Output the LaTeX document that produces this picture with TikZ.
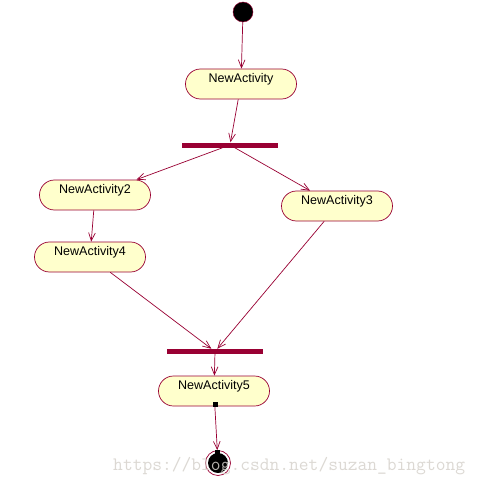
\documentclass[tikz,border=0pt]{standalone}
\usepackage{fontspec}
\setmainfont{Liberation Sans}
\usetikzlibrary{shapes.misc,arrows.meta}
\definecolor{ADRed}{HTML}{990033}
\definecolor{ADFill}{HTML}{FFFFCC}
\definecolor{ADMark}{HTML}{D6D2CC}
\begin{document}
\begin{tikzpicture}[x=0.03cm,y=-0.03cm,
  activity/.style={rounded rectangle,draw=ADRed,fill=ADFill,line width=.6pt,
    minimum width=3.33cm,minimum height=0.9cm,inner sep=0pt,
    text height=0.3cm,text depth=0.39cm,font=\fontsize{10.7}{12}\selectfont},
  forkbar/.style={rectangle,fill=ADRed,minimum width=2.88cm,minimum height=0.15cm,inner sep=0pt},
  flow/.style={draw=ADRed,line width=.6pt,-{Straight Barb[length=0.24cm,width=0.2cm]}},
  handle/.style={rectangle,fill=black,minimum size=0.15cm,inner sep=0pt}]
\path[use as bounding box] (0,0) rectangle (484,482);
\fill[white] (0,0) rectangle (484,482);
% states
\node[circle,draw=ADRed,fill=black,minimum size=0.6cm,inner sep=0pt] (start) at (243,12) {};
\node[activity] (act1) at (241,84) {NewActivity};
\node[forkbar] (fork1) at (230,145) {};
\node[activity] (act2) at (95,195) {NewActivity2};
\node[activity] (act3) at (337,206) {NewActivity3};
\node[activity] (act4) at (90,257) {NewActivity4};
\node[forkbar] (fork2) at (215,351.5) {};
\node[activity] (act5) at (214,391) {NewActivity5};
\node[circle,draw=ADRed,fill=white,line width=.6pt,minimum size=0.75cm,inner sep=0pt] (end) at (218,463) {};
\node[circle,fill=black,minimum size=0.6cm,inner sep=0pt] (endin) at (end) {};
% transitions
\draw[flow] (start) -- (act1);
\draw[flow] (act1) -- (fork1);
\draw[flow] (fork1) -- (act2);
\draw[flow] (fork1) -- (act3);
\draw[flow] (act2) -- (act4);
\draw[flow] (act4) -- (fork2);
\draw[flow] (act3) -- (fork2);
\draw[flow] (fork2) -- (act5);
\draw[flow] (act5) -- (end);
\node[handle] (h1) at (215,404) {};
\node[handle] (h2) at (217,452) {};
% watermark
\node[anchor=base west,inner sep=0pt,text=ADMark,text opacity=0.85,
  font=\ttfamily\fontsize{16.2}{17}\selectfont] (wm) at (113,470) {https://blog.csdn.net/suzan\_bingtong};
\end{tikzpicture}
\end{document}
